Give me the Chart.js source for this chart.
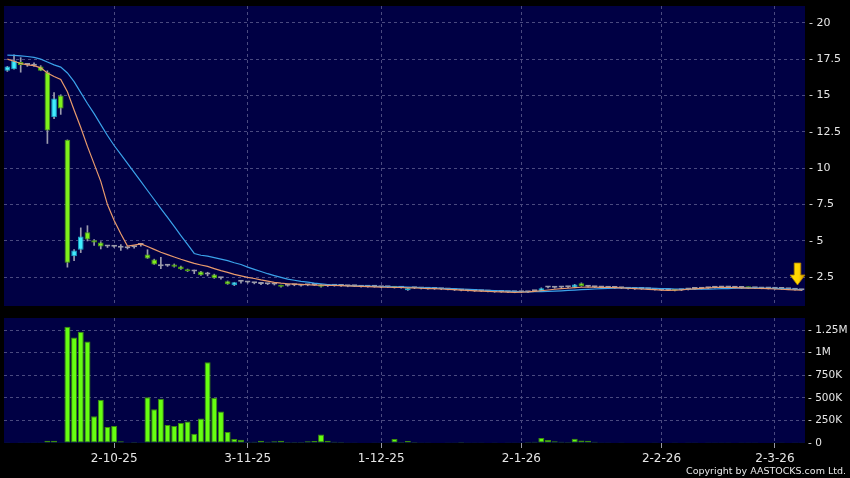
<!DOCTYPE html>
<html>
<head>
<meta charset="utf-8">
<script src="https://cdn.jsdelivr.net/npm/chart.js@4.4.1/dist/chart.umd.min.js"></script>
<style>
  body { margin: 0; background: #000; }
  #wrap { position: relative; width: 850px; height: 478px; background: #000; }
  #priceChart { position: absolute; left: 0; top: 0; }
  #volChart { position: absolute; left: 0; top: 312px; }
  #copy { position: absolute; right: 4px; top: 465px; font: 9.5px "DejaVu Sans", sans-serif; color: #e8e8e8; line-height: 12px; }
</style>
</head>
<body>
<div id="wrap">
  <canvas id="priceChart" width="850" height="312"></canvas>
  <canvas id="volChart" width="850" height="166"></canvas>
  <div id="copy">Copyright by AASTOCKS.com Ltd.</div>
</div>
<script>
// trading days, Sep 2025 - Mar 2026
var sepDays = [9,10,11,12,15,16,17,18,19,22,23,24,25,26,29,30];
var octDays = [2,3,6,8,9,10,13,14,15,16,17,20,21,22,23,24,27,28,30,31];
var novDays = [3,4,5,6,7,10,11,12,13,14,17,18,19,20,21,24,25,26,27,28];
var decDays = [1,2,3,4,5,8,9,10,11,12,15,16,17,18,19,22,23,24,29,30,31];
var janDays = [2,5,6,7,8,9,12,13,14,15,16,19,20,21,22,23,26,27,28,29,30];
var febDays = [2,3,4,5,6,9,10,11,12,13,16,20,23,24,25,26,27];
var marDays = [2,3,4,5,6];

var tickDates = ["2-10-25", "3-11-25", "1-12-25", "2-1-26", "2-2-26", "2-3-26"];
var priceTicks = [2.5, 5, 7.5, 10, 12.5, 15, 17.5, 20];
var volTicks = [0, 250000, 500000, 750000, 1000000, 1250000];
var volTickText = ["0", "250K", "500K", "750K", "1M", "1.25M"];

var openPx = [
  16.7,16.8,17.3,17.1,17.05,17.0,16.6,13.5,15.0,11.95,
  3.95,4.4,5.6,5.05,4.9,4.62,4.6,4.53,4.5,4.57,
  4.72,4.07,3.73,3.27,3.3,3.39,3.25,3.05,2.9,2.9,
  2.7,2.7,2.43,2.23,1.95,2.2,2.15,2.1,2.05,2.03,
  2.0,1.95,1.92,1.95,1.93,1.95,1.97,2.0,1.9,1.92,
  1.9,1.88,1.88,1.86,1.85,1.85,1.82,1.82,1.85,1.78,
  1.62,1.75,1.73,1.72,1.7,1.68,1.66,1.62,1.6,1.58,
  1.56,1.55,1.52,1.5,1.5,1.48,1.47,1.47,1.48,1.55,
  1.55,1.8,1.78,1.8,1.82,1.8,2.1,1.85,1.82,1.8,
  1.78,1.76,1.75,1.72,1.7,1.7,1.68,1.65,1.62,1.62,
  1.65,1.62,1.66,1.7,1.72,1.75,1.78,1.8,1.8,1.78,
  1.76,1.82,1.75,1.74,1.73,1.72,1.7,1.68,1.65,1.62
];
var highPx = [
  17.0,17.8,17.6,17.2,17.25,17.05,16.7,15.2,15.05,11.95,
  4.4,5.9,6.05,5.1,4.95,4.7,4.65,4.75,4.55,4.6,
  4.78,4.4,3.75,3.87,3.35,3.42,3.27,3.07,3.0,2.92,
  2.85,2.72,2.5,2.25,2.16,2.3,2.2,2.15,2.1,2.06,
  2.03,1.97,1.95,1.98,1.96,1.98,2.0,2.02,1.93,1.95,
  1.93,1.91,1.9,1.89,1.88,1.88,1.85,1.85,1.87,1.81,
  1.77,1.78,1.76,1.75,1.73,1.71,1.69,1.65,1.63,1.61,
  1.59,1.58,1.55,1.53,1.53,1.51,1.5,1.5,1.51,1.58,
  1.78,1.84,1.81,1.83,1.85,2.02,2.12,1.88,1.85,1.83,
  1.81,1.79,1.78,1.75,1.73,1.73,1.71,1.68,1.65,1.65,
  1.67,1.65,1.69,1.73,1.75,1.78,1.81,1.83,1.83,1.81,
  1.79,1.84,1.78,1.77,1.76,1.75,1.73,1.71,1.68,1.65
];
var lowPx = [
  16.65,16.8,16.6,17.0,17.0,16.7,11.7,13.4,13.7,3.2,
  3.65,4.2,5.0,4.7,4.45,4.55,4.55,4.35,4.45,4.5,
  4.65,3.8,3.39,3.1,3.25,3.2,3.05,2.9,2.75,2.64,
  2.6,2.43,2.38,2.02,1.93,2.1,2.1,2.05,2.0,2.0,
  1.97,1.83,1.89,1.92,1.9,1.92,1.94,1.82,1.87,1.89,
  1.87,1.85,1.86,1.83,1.82,1.82,1.79,1.79,1.76,1.75,
  1.6,1.72,1.7,1.69,1.67,1.65,1.63,1.59,1.57,1.55,
  1.53,1.52,1.49,1.47,1.47,1.45,1.44,1.44,1.45,1.52,
  1.53,1.77,1.75,1.77,1.79,1.78,1.88,1.82,1.79,1.77,
  1.75,1.73,1.72,1.69,1.67,1.67,1.65,1.62,1.59,1.59,
  1.56,1.59,1.63,1.67,1.69,1.72,1.75,1.77,1.77,1.75,
  1.73,1.74,1.72,1.71,1.7,1.69,1.67,1.65,1.62,1.59
];
var closePx = [
  17.0,17.4,17.1,17.1,17.05,16.7,12.6,14.8,14.1,3.5,
  4.35,5.3,5.1,4.9,4.62,4.62,4.6,4.53,4.5,4.57,
  4.72,3.8,3.39,3.27,3.3,3.22,3.05,2.92,2.9,2.64,
  2.7,2.43,2.43,2.02,2.16,2.2,2.15,2.1,2.05,2.03,
  2.0,1.85,1.92,1.95,1.93,1.95,1.97,1.85,1.9,1.92,
  1.9,1.88,1.88,1.86,1.85,1.85,1.82,1.82,1.78,1.78,
  1.75,1.75,1.73,1.72,1.7,1.68,1.66,1.62,1.6,1.58,
  1.56,1.55,1.52,1.5,1.5,1.48,1.47,1.47,1.48,1.55,
  1.75,1.8,1.78,1.8,1.82,2.0,1.9,1.85,1.82,1.8,
  1.78,1.76,1.75,1.72,1.7,1.7,1.68,1.65,1.62,1.62,
  1.58,1.62,1.66,1.7,1.72,1.75,1.78,1.8,1.8,1.78,
  1.76,1.75,1.75,1.74,1.73,1.72,1.7,1.68,1.65,1.62
];
var maShort = [
  17.5,17.35,17.2,17.1,17.05,16.9,16.55,16.3,16.1,15.25,
  14.0,12.8,11.5,10.3,9.1,7.5,6.4,5.5,4.65,4.72,
  4.8,4.62,4.42,4.22,4.06,3.9,3.74,3.6,3.46,3.35,
  3.25,3.1,2.96,2.84,2.7,2.6,2.5,2.42,2.32,2.24,
  2.16,2.1,2.06,2.03,2.01,1.99,1.97,1.96,1.95,1.94,
  1.93,1.91,1.89,1.88,1.86,1.85,1.83,1.82,1.81,1.8,
  1.78,1.77,1.75,1.73,1.72,1.7,1.67,1.65,1.62,1.6,
  1.57,1.55,1.53,1.51,1.5,1.48,1.47,1.48,1.5,1.54,
  1.58,1.63,1.68,1.72,1.75,1.79,1.82,1.83,1.82,1.81,
  1.8,1.79,1.77,1.75,1.72,1.7,1.67,1.65,1.62,1.61,
  1.62,1.64,1.68,1.71,1.74,1.77,1.8,1.81,1.8,1.79,
  1.77,1.76,1.75,1.74,1.72,1.7,1.68,1.66,1.63,1.62
];
var maLong = [
  17.77,17.75,17.72,17.68,17.62,17.5,17.3,17.1,16.95,16.55,
  15.95,15.2,14.45,13.75,13.0,12.25,11.56,10.95,10.33,9.71,
  9.1,8.47,7.85,7.23,6.62,6.0,5.37,4.76,4.14,4.02,
  3.96,3.85,3.75,3.65,3.5,3.38,3.2,3.05,2.9,2.75,
  2.62,2.5,2.38,2.3,2.22,2.17,2.1,2.05,2.0,1.97,
  1.95,1.93,1.91,1.9,1.89,1.88,1.87,1.86,1.85,1.84,
  1.83,1.81,1.8,1.78,1.77,1.75,1.73,1.72,1.7,1.68,
  1.65,1.63,1.61,1.59,1.57,1.55,1.53,1.51,1.5,1.51,
  1.52,1.53,1.55,1.57,1.6,1.62,1.65,1.67,1.7,1.72,
  1.74,1.75,1.77,1.78,1.78,1.77,1.76,1.75,1.73,1.72,
  1.7,1.69,1.68,1.68,1.68,1.69,1.7,1.72,1.73,1.75,
  1.76,1.77,1.77,1.76,1.75,1.74,1.72,1.7,1.68,1.66
];
var volumeK = [
  3,5,4,2,2,3,25,25,2,1285,
  1166,1231,1122,297,478,177,188,18,3,10,
  3,507,373,489,199,188,221,239,101,271,
  894,500,348,123,43,36,14,14,25,14,
  18,25,11,11,11,18,22,95,26,15,
  11,8,8,6,6,8,7,8,44,10,
  22,10,8,8,6,5,4,2,11,3,
  2,3,5,4,6,4,7,9,11,15,
  55,33,18,15,11,48,29,26,15,8,
  8,5,4,5,5,6,5,4,6,5,
  9,6,4,4,6,8,8,9,9,5,
  4,4,4,5,6,7,9,5,4,4
];

var days = [];
function addMonth(list, m, y) {
    for (var i = 0; i < list.length; i++) days.push(list[i] + "-" + m + "-" + y);
}
addMonth(sepDays, 9, 25);
addMonth(octDays, 10, 25);
addMonth(novDays, 11, 25);
addMonth(decDays, 12, 25);
addMonth(janDays, 1, 26);
addMonth(febDays, 2, 26);
addMonth(marDays, 3, 26);

var gridCol = "#4a4a80";
var labelCol = "#e6e6e6";
var upCol = "#40eeff", upEdge = "#1aa6c8";
var downCol = "#7ef01c", downEdge = "#4a9a10";
var flatCol = "#9a9aa8";

function candleColor(i, edge) {
    if (closePx[i] > openPx[i]) return edge ? upEdge : upCol;
    if (closePx[i] < openPx[i]) return edge ? downEdge : downCol;
    return flatCol;
}

function xGridColor(ctx) {
    return tickDates.indexOf(days[ctx.index]) >= 0 ? gridCol : "rgba(0,0,0,0)";
}

// no extra room for half labels at the ends of the value axes
function fixAxis(s) {
    s.width = 45;
    s.paddingTop = 0;
    s.paddingBottom = 0;
}

var plotBg = {
    id: "plotBg",
    beforeDraw: function(chart) {
        var a = chart.chartArea, ctx = chart.ctx;
        ctx.save();
        ctx.fillStyle = "#000044";
        ctx.fillRect(a.left, a.top, a.right - a.left, a.bottom - a.top);
        ctx.restore();
    }
};

// yellow down arrow at the right end of the price panel
var lastArrow = {
    id: "lastArrow",
    afterDraw: function(chart) {
        var ctx = chart.ctx, a = chart.chartArea;
        var cx = a.right - 7.5, top = a.bottom - 43;
        ctx.save();
        ctx.beginPath();
        ctx.moveTo(cx - 3.3, top);
        ctx.lineTo(cx + 3.3, top);
        ctx.lineTo(cx + 3.3, top + 12);
        ctx.lineTo(cx + 7.5, top + 12);
        ctx.lineTo(cx, top + 22);
        ctx.lineTo(cx - 7.5, top + 12);
        ctx.lineTo(cx - 3.3, top + 12);
        ctx.closePath();
        var g = ctx.createLinearGradient(cx - 7, 0, cx + 7, 0);
        g.addColorStop(0, "#ffe000");
        g.addColorStop(0.6, "#ffd400");
        g.addColorStop(1, "#c89200");
        ctx.fillStyle = g;
        ctx.fill();
        ctx.strokeStyle = "#b08000";
        ctx.lineWidth = 0.8;
        ctx.stroke();
        ctx.restore();
    }
};

document.addEventListener("DOMContentLoaded", function() {

    var ctx = document.getElementById("priceChart").getContext("2d");

    var bodies = openPx.map(function(o, i) { return [o, closePx[i]]; });
    var wicks = lowPx.map(function(l, i) { return [l, highPx[i]]; });

    new Chart(ctx, {
        type: "bar",
        data: {
            labels: days,
            datasets: [{
                type: "line",
                data: maShort,
                borderColor: "#e89a6c",
                borderWidth: 1.2,
                pointRadius: 0,
                tension: 0
            }, {
                type: "line",
                data: maLong,
                borderColor: "#3aa2ea",
                borderWidth: 1.2,
                pointRadius: 0,
                tension: 0
            }, {
                data: bodies,
                grouped: false,
                barPercentage: 0.85,
                categoryPercentage: 1,
                minBarLength: 2,
                backgroundColor: function(c) { return candleColor(c.dataIndex, false); },
                borderColor: function(c) { return candleColor(c.dataIndex, true); },
                borderWidth: 1,
                borderSkipped: false
            }, {
                data: wicks,
                grouped: false,
                barThickness: 1,
                backgroundColor: "#9c9cae",
                borderWidth: 0
            }]
        },
        options: {
            responsive: false,
            animation: false,
            layout: { padding: { left: 4, top: 6, right: 0, bottom: 6 } },
            plugins: { legend: { display: false }, tooltip: { enabled: false } },
            scales: {
                x: {
                    offset: true,
                    grid: { offset: false, drawTicks: false, color: xGridColor },
                    border: { display: false, dash: [3, 3] },
                    ticks: { display: false },
                    afterFit: function(s) { s.height = 0; s.paddingLeft = 0; s.paddingRight = 0; }
                },
                y: {
                    position: "right",
                    min: 0.53,
                    max: 21.15,
                    afterBuildTicks: function(s) {
                        s.ticks = priceTicks.map(function(v) { return { value: v }; });
                    },
                    afterFit: fixAxis,
                    grid: { drawTicks: false, color: gridCol },
                    border: { display: false, dash: [3, 3] },
                    ticks: {
                        color: labelCol,
                        padding: 4,
                        font: { family: "DejaVu Sans", size: 11 },
                        callback: function(v) { return "- " + v; }
                    }
                }
            }
        },
        plugins: [plotBg, lastArrow]
    });
});

document.addEventListener("DOMContentLoaded", function() {

    var ctx = document.getElementById("volChart").getContext("2d");

    new Chart(ctx, {
        type: "bar",
        data: {
            labels: days,
            datasets: [{
                data: volumeK.map(function(v) { return v * 1000; }),
                backgroundColor: "#66ff11",
                borderColor: "#3c8c0c",
                borderWidth: 1,
                borderSkipped: false,
                barPercentage: 0.9,
                categoryPercentage: 1
            }]
        },
        options: {
            responsive: false,
            animation: false,
            layout: { padding: { left: 4, top: 6, right: 0, bottom: 0 } },
            plugins: { legend: { display: false }, tooltip: { enabled: false } },
            scales: {
                x: {
                    offset: true,
                    grid: { offset: false, drawTicks: true, tickLength: 5, color: xGridColor, tickColor: function(c) { return xGridColor(c) === gridCol ? "#9a9aa8" : "rgba(0,0,0,0)"; } },
                    border: { display: false, dash: [3, 3] },
                    ticks: {
                        autoSkip: false,
                        maxRotation: 0,
                        padding: 4,
                        color: labelCol,
                        font: { family: "DejaVu Sans", size: 12 },
                        callback: function(v, i) { return tickDates.indexOf(days[i]) >= 0 ? days[i] : ""; }
                    },
                    afterFit: function(s) { s.height = 35; s.paddingLeft = 0; s.paddingRight = 0; }
                },
                y: {
                    position: "right",
                    min: 0,
                    max: 1383000,
                    afterBuildTicks: function(s) {
                        s.ticks = volTicks.map(function(v) { return { value: v }; });
                    },
                    afterFit: fixAxis,
                    grid: {
                        drawTicks: false,
                        color: function(c) { return c.tick && c.tick.value === 0 ? "rgba(0,0,0,0)" : gridCol; }
                    },
                    border: { display: false, dash: [3, 3] },
                    ticks: {
                        color: labelCol,
                        padding: 3,
                        font: { family: "DejaVu Sans", size: 10.5 },
                        callback: function(v) { return "- " + volTickText[volTicks.indexOf(v)]; }
                    }
                }
            }
        },
        plugins: [plotBg]
    });
});
</script>
</body>
</html>
